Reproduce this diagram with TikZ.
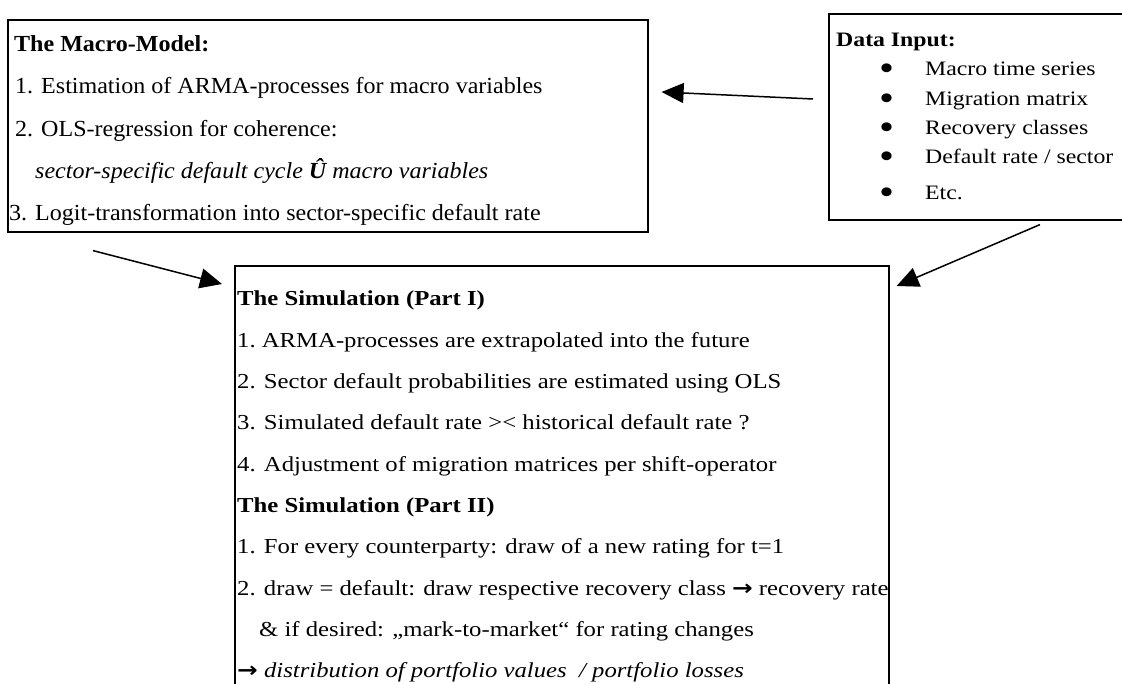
\documentclass[tikz,border=0pt]{standalone}
\usepackage{fontspec}
\setmainfont{Liberation Serif}
\newfontfamily\macrofont{Liberation Serif}[FakeStretch=1.045]
\newfontfamily\datafont{Liberation Serif}[FakeStretch=1.16]
\newfontfamily\simfont{Liberation Serif}[FakeStretch=1.16]
\newfontfamily\arrowfont{DejaVu Sans}[FakeStretch=1.16]
\usetikzlibrary{arrows.meta, calc, positioning}

\newcommand{\databullet}{\makebox[46pt][l]{\raisebox{-5pt}[0pt][0pt]{\scalebox{1.8}{•}}}}
\newcommand{\textarrow}{{\arrowfont\bfseries →}}

\tikzset{
  panel/.style={rectangle, draw=black, line width=1.6pt, inner sep=0pt, anchor=north west},
  paneltext/.style={anchor=north west, align=left, inner sep=0pt},
  flow/.style={-{Triangle[length=22pt,width=20pt]}, line width=1.5pt}
}

\begin{document}
\begin{tikzpicture}[x=1pt,y=-1pt]
\clip (0,0) rectangle (1122,684);

% the three boxes
\node[panel, minimum width=640pt, minimum height=212pt] (macro) at (7,19) {};
\node[panel, minimum width=310pt, minimum height=206pt] (data) at (828,13) {};
\node[panel, minimum width=654pt, minimum height=440pt] (sim) at (234,265) {};

\node[paneltext, font=\macrofont\fontsize{23}{42.2}\selectfont] (macrotext) at (9,35.5) {%
\hspace*{5pt}\textbf{The Macro-Model:}\\
\hspace*{6pt}1. Estimation of ARMA-processes for macro variables\\
\hspace*{6pt}2. OLS-regression for coherence:\\
\hspace*{26pt}\textit{sector-specific default cycle \textbf{Û} macro variables}\\
3. Logit-transformation into sector-specific default rate};

\node[paneltext, font=\datafont\fontsize{20.5}{29.3}\selectfont] (datatext) at (836,33) {%
\textbf{Data Input:}\\
\hspace*{43pt}\databullet Macro time series\\
\hspace*{43pt}\databullet Migration matrix\\
\hspace*{43pt}\databullet Recovery classes\\
\hspace*{43pt}\databullet Default rate / sector\\[6pt]
\hspace*{43pt}\databullet Etc.};

\node[paneltext, font=\simfont\fontsize{21.3}{41.3}\selectfont] (simtext) at (237,291) {%
\textbf{The Simulation (Part I)}\\
1.\ ARMA-processes are extrapolated into the future\\
2. Sector default probabilities are estimated using OLS\\
3. Simulated default rate >< historical default rate ?\\
4. Adjustment of migration matrices per shift-operator\\
\textbf{The Simulation (Part II)}\\
1. For every counterparty: draw of a new rating for t=1\\
2. draw = default: draw respective recovery class \textarrow\ recovery rate\\
\hspace*{22pt}\& if desired: „mark-to-market“ for rating changes\\
\textarrow\ \textit{distribution of portfolio values\ \ / portfolio losses}};

% arrows between the boxes
\coordinate (datamacro) at ($(data.north west)+(-15,86)$);
\coordinate (macrotip) at ($(macro.north east)+(13,73)$);
\coordinate (macrosim) at ($(macro.south west)+(86,18)$);
\coordinate (simtipleft) at ($(sim.north west)+(-12,19)$);
\coordinate (datasim) at ($(data.south west)+(212,4)$);
\coordinate (simtipright) at ($(sim.north east)+(7,21)$);

\draw[flow] (datamacro) -- (macrotip);
\draw[flow] (macrosim) -- (simtipleft);
\draw[flow] (datasim) -- (simtipright);
\end{tikzpicture}
\end{document}
